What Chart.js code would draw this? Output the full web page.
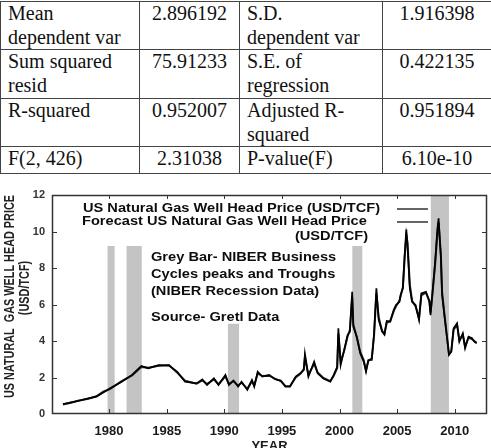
<!DOCTYPE html>
<html>
<head>
<meta charset="utf-8">
<script src="https://cdn.jsdelivr.net/npm/chart.js@4.4.1/dist/chart.umd.min.js"></script>
<style>
  html, body { margin: 0; padding: 0; background: #fff; }
  #wrap { position: relative; width: 491px; height: 448px; overflow: hidden; }
  #gasChart { position: absolute; left: 0; top: 0; }
  table.stats {
    position: absolute; left: 0; top: 1px; width: 491px;
    border-collapse: collapse; table-layout: fixed;
    font-family: "Liberation Serif", "Times New Roman", serif; font-size: 20px;
    line-height: 23.5px; color: #111; background: #fff;
  }
  table.stats td { border: 1px solid #444; padding: 0 7px; vertical-align: top; white-space: nowrap; }
  table.stats td.num { text-align: center; padding: 0 2px; }
</style>
</head>
<body>
<div id="wrap">
  <canvas id="gasChart" width="491" height="448"></canvas>
  <table class="stats">
    <colgroup><col style="width:139px"><col style="width:100px"><col style="width:143px"><col style="width:109px"></colgroup>
    <tr style="height:47px"><td>Mean<br>dependent var</td><td class="num">2.896192</td><td>S.D.<br>dependent var</td><td class="num">1.916398</td></tr>
    <tr style="height:49px"><td>Sum squared<br>resid</td><td class="num">75.91233</td><td>S.E. of<br>regression</td><td class="num">0.422135</td></tr>
    <tr style="height:48px"><td>R-squared</td><td class="num">0.952007</td><td>Adjusted R-<br>squared</td><td class="num">0.951894</td></tr>
    <tr style="height:27px"><td>F(2, 426)</td><td class="num">2.31038</td><td>P-value(F)</td><td class="num">6.10e-10</td></tr>
  </table>
</div>
<script>
const years = [
  1976.0, 1976.6, 1977.3, 1978.2, 1978.9, 1979.5, 1980.1, 1981.1, 1982.0, 1982.8,
  1983.4, 1984.3, 1985.2, 1985.9, 1986.6, 1987.6, 1988.1, 1988.5, 1989.1, 1989.5,
  1990.1, 1990.4, 1990.8, 1991.2, 1991.5, 1992.0, 1992.4, 1992.6, 1992.9, 1993.3,
  1993.9, 1994.4, 1994.9, 1995.3, 1995.7, 1996.2, 1996.6, 1996.9, 1997.0, 1997.3,
  1997.8, 1998.1, 1998.6, 1999.2, 1999.5, 1999.8, 1999.9, 2000.1, 2000.4, 2000.7,
  2000.9, 2001.1, 2001.2, 2001.5, 2001.8, 2002.1, 2002.3, 2002.5, 2002.8, 2003.0,
  2003.2, 2003.4, 2003.7, 2003.9, 2004.1, 2004.4, 2004.7, 2004.9, 2005.2, 2005.3,
  2005.5, 2005.65, 2005.8, 2005.9, 2006.1, 2006.3, 2006.6, 2006.9, 2007.1, 2007.5,
  2007.8, 2007.9, 2008.1, 2008.3, 2008.5, 2008.6, 2008.8, 2008.9, 2009.1, 2009.3,
  2009.5, 2009.7, 2009.9, 2010.2, 2010.4, 2010.7, 2010.9, 2011.2, 2011.5, 2011.7,
  2011.9
];
// US natural gas well head price (USD/TCF)
const actualPrice = [
  0.55, 0.62, 0.71, 0.86, 0.95, 1.18, 1.41, 1.77, 2.14, 2.63,
  2.50, 2.68, 2.65, 2.32, 1.77, 1.68, 1.90, 1.59, 1.95, 1.59,
  2.14, 1.59, 1.83, 1.50, 1.77, 1.32, 1.86, 1.50, 2.32, 2.05,
  2.14, 1.90, 1.83, 1.50, 1.50, 2.05, 2.23, 2.40, 3.30, 2.05,
  2.87, 2.23, 1.95, 1.77, 2.14, 2.59, 4.70, 2.68, 3.50, 4.33,
  4.51, 6.70, 4.78, 4.24, 3.32, 2.87, 2.32, 2.96, 2.96, 4.42,
  6.89, 5.15, 4.51, 4.35, 5.10, 5.06, 5.70, 5.97, 6.15, 6.52,
  6.89, 8.71, 10.10, 9.26, 6.89, 6.15, 5.97, 5.15, 6.61, 6.70,
  6.15, 5.42, 6.89, 8.35, 10.17, 10.72, 8.53, 6.52, 5.42, 4.33,
  3.23, 3.41, 4.70, 4.97, 3.96, 4.42, 3.60, 4.24, 4.15, 3.96,
  3.87
];
// forecast series
const forecastPrice = [
  0.52, 0.60, 0.73, 0.84, 0.97, 1.22, 1.38, 1.80, 2.12, 2.58,
  2.54, 2.64, 2.68, 2.28, 1.82, 1.66, 1.84, 1.64, 1.90, 1.63,
  2.06, 1.65, 1.80, 1.55, 1.72, 1.38, 1.80, 1.56, 2.22, 2.08,
  2.10, 1.94, 1.80, 1.54, 1.52, 2.00, 2.20, 2.46, 3.10, 2.15,
  2.75, 2.28, 1.98, 1.80, 2.10, 2.52, 4.40, 2.85, 3.45, 4.25,
  4.60, 6.40, 4.90, 4.20, 3.40, 2.95, 2.40, 2.90, 3.05, 4.30,
  6.60, 5.30, 4.55, 4.40, 5.00, 5.10, 5.62, 5.90, 6.20, 6.45,
  6.95, 8.50, 9.80, 9.40, 7.10, 6.20, 5.90, 5.25, 6.50, 6.65,
  6.20, 5.55, 6.80, 8.20, 9.95, 10.50, 8.70, 6.70, 5.50, 4.40,
  3.30, 3.45, 4.60, 4.90, 4.05, 4.35, 3.70, 4.18, 4.10, 4.00,
  3.90
];
// NBER recession bars
const recessionStart = [1979.85, 1981.5, 1990.3, 2001.1, 2007.9];
const recessionEnd   = [1980.5, 1982.85, 1991.3, 2002.0, 2009.5];
const recessionTop   = [9.2, 9.2, 4.95, 9.2, 12];

const xTicks = [1980, 1985, 1990, 1995, 2000, 2005, 2010];
const yTicks = [0, 2, 4, 6, 8, 10, 12];

const yTitleLines = ['US NATURAL  GAS WELL HEAD PRICE', '(USD/TCF)'];
const legendLines = [
  'US Natural Gas Well Head Price (USD/TCF)',
  'Forecast US Natural Gas Well Head Price',
  '(USD/TCF)'
];
const noteLines = [
  'Grey Bar- NIBER Business',
  'Cycles peaks and Troughs',
  '(NIBER Recession Data)',
  'Source- Gretl Data'
];

// build the bar polygons: top edge of each bar, gaps between them
const barPoints = [];
recessionStart.forEach((s, i) => {
  barPoints.push({x: s, y: recessionTop[i]});
  barPoints.push({x: recessionEnd[i], y: recessionTop[i]});
  barPoints.push({x: recessionEnd[i] + 0.01, y: null});
});

const decor = {
  id: 'decor',
  afterDatasetsDraw(chart) {
    const ctx = chart.ctx;
    const a = chart.chartArea;
    const xs = chart.scales.x, ys = chart.scales.y;
    ctx.save();
    // frame
    ctx.strokeStyle = '#333';
    ctx.lineWidth = 1.5;
    ctx.strokeRect(a.left + 0.5, a.top + 0.5, a.right - a.left - 1, a.bottom - a.top - 1);
    // inner tick marks
    ctx.lineWidth = 1;
    ctx.beginPath();
    yTicks.slice(1, -1).forEach(v => {
      const py = Math.round(ys.getPixelForValue(v)) + 0.5;
      ctx.moveTo(a.left, py); ctx.lineTo(a.left + 5, py);
      ctx.moveTo(a.right, py); ctx.lineTo(a.right - 5, py);
    });
    xTicks.forEach(v => {
      const px = Math.round(xs.getPixelForValue(v)) + 0.5;
      ctx.moveTo(px, a.bottom); ctx.lineTo(px, a.bottom - 5);
      ctx.moveTo(px, a.top); ctx.lineTo(px, a.top + 4);
    });
    ctx.stroke();

    // text in the plot (bold sans, stretched wide like the original)
    ctx.fillStyle = '#0d0d0d';
    ctx.font = 'bold 12.5px "Liberation Sans", Arial, sans-serif';
    ctx.textBaseline = 'middle';
    const sx = 297 / ctx.measureText(legendLines[0]).width;
    const put = (txt, x, y, right) => {
      const w = ctx.measureText(txt).width * sx;
      ctx.save();
      ctx.translate(right ? x - w : x, y);
      ctx.scale(sx, 1);
      ctx.textAlign = 'left';
      ctx.fillText(txt, 0, 0);
      ctx.restore();
    };
    put(legendLines[0], 83, 209);
    put(legendLines[1], 82, 222);
    put(legendLines[2], 368, 237, true);
    const noteY = [258, 275, 292, 318];
    noteLines.forEach((t, i) => put(t, 151, noteY[i]));

    // legend line samples
    ctx.strokeStyle = '#333';
    ctx.lineWidth = 1.5;
    ctx.beginPath();
    ctx.moveTo(397, 209); ctx.lineTo(428, 209);
    ctx.moveTo(397, 222); ctx.lineTo(428, 222);
    ctx.stroke();

    // y axis title, condensed bold, rotated
    ctx.fillStyle = '#222';
    ctx.font = 'bold 14.5px "Liberation Sans", Arial, sans-serif';
    ctx.textAlign = 'center';
    const sq = 203 / ctx.measureText(yTitleLines[0]).width;
    [[yTitleLines[0], 9.5, 296.5], [yTitleLines[1], 25, 288]].forEach(([t, x, y]) => {
      ctx.save();
      ctx.translate(x, y);
      ctx.rotate(-Math.PI / 2);
      ctx.scale(sq, 1);
      ctx.fillText(t, 0, 0);
      ctx.restore();
    });
    ctx.restore();
  }
};

new Chart(document.getElementById('gasChart').getContext('2d'), {
  type: 'line',
  data: {
    datasets: [
      {
        label: 'NBER recession',
        data: barPoints,
        borderWidth: 0,
        borderColor: 'rgba(0,0,0,0)',
        backgroundColor: '#c4c4c4',
        fill: 'origin',
        pointRadius: 0,
        spanGaps: false,
        order: 3
      },
      {
        label: 'Forecast US Natural Gas Well Head Price (USD/TCF)',
        data: years.map((y, i) => ({x: y, y: forecastPrice[i]})),
        borderColor: '#2a2a2a',
        borderWidth: 2,
        pointRadius: 0,
        fill: false,
        order: 2
      },
      {
        label: 'US Natural Gas Well Head Price (USD/TCF)',
        data: years.map((y, i) => ({x: y, y: actualPrice[i]})),
        borderColor: '#000',
        borderWidth: 1.7,
        pointRadius: 0,
        fill: false,
        order: 1
      }
    ]
  },
  options: {
    responsive: false,
    animation: false,
    devicePixelRatio: 1,
    layout: { padding: { top: 195, right: 4, left: 0, bottom: 0 } },
    plugins: { legend: { display: false }, tooltip: { enabled: false } },
    scales: {
      x: {
        type: 'linear',
        min: 1975.05,
        max: 2012.8,
        afterFit: s => { s.height = 34; },
        afterBuildTicks: s => { s.ticks = xTicks.map(v => ({value: v})); },
        grid: { display: false, drawTicks: false },
        border: { display: false },
        ticks: {
          autoSkip: false, maxRotation: 0, padding: 10, color: '#1a1a1a',
          font: { family: '"Liberation Sans", Arial, sans-serif', weight: 'bold', size: 13 },
          callback: v => String(v)
        },
        title: {
          display: true, text: 'YEAR', color: '#1a1a1a', padding: 0,
          font: { family: '"Liberation Sans", Arial, sans-serif', weight: 'bold', size: 13, lineHeight: 0.2 }
        }
      },
      y: {
        min: 0,
        max: 12,
        afterFit: s => { s.width = 52; },
        afterBuildTicks: s => { s.ticks = yTicks.map(v => ({value: v})); },
        grid: { display: false, drawTicks: false },
        border: { display: false },
        ticks: {
          padding: 7, color: '#333',
          font: { family: '"Liberation Sans", Arial, sans-serif', weight: 'bold', size: 11 }
        },
        title: { display: false }
      }
    }
  },
  plugins: [decor]
});
</script>
</body>
</html>
